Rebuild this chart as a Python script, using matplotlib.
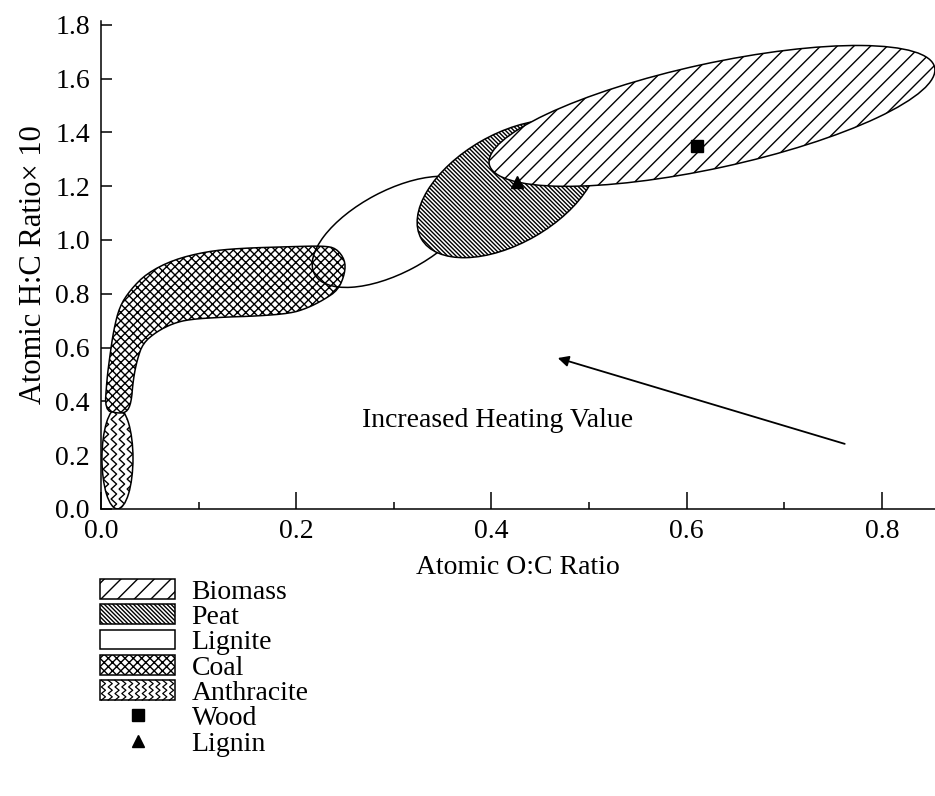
import numpy as np
import matplotlib
matplotlib.use('Agg')
import matplotlib.pyplot as plt
from matplotlib.patches import Ellipse, Patch, Polygon, Rectangle
from matplotlib.lines import Line2D
from matplotlib.legend_handler import HandlerBase
from matplotlib.transforms import Affine2D
from matplotlib.ticker import MultipleLocator, FormatStrFormatter

plt.rcParams['font.family'] = ['Liberation Serif', 'DejaVu Serif']
plt.rcParams['hatch.linewidth'] = 1.0
FS = 20

# Region ellipses: centre O:C, centre H:C, length, thickness (both in O:C units on the page), tilt (deg)
biomass_ell = (0.626, 1.461, 0.467, 0.107, 12.3)
peat_ell = (0.417, 1.190, 0.205, 0.112, 30.0)
lignite_ell = (0.300, 1.030, 0.184, 0.084, 28.0)
anthracite_ell = (0.0169, 0.188, 0.1035, 0.0318, 90.0)

# Coal band outline (O:C, H:C)
coal_x = [0.004, 0.006, 0.009, 0.013, 0.019, 0.030, 0.047, 0.074, 0.108, 0.142,
          0.194, 0.228, 0.241, 0.250, 0.250, 0.243, 0.228, 0.211, 0.194, 0.160,
          0.125, 0.091, 0.074, 0.057, 0.043, 0.037, 0.033, 0.031, 0.026, 0.016]
coal_y = [0.368, 0.480, 0.566, 0.665, 0.752, 0.814, 0.876, 0.926, 0.957, 0.969,
          0.975, 0.978, 0.969, 0.926, 0.876, 0.814, 0.777, 0.746, 0.727, 0.717,
          0.713, 0.705, 0.690, 0.659, 0.616, 0.554, 0.480, 0.394, 0.358, 0.356]

wood_pt = (0.611, 1.349)
lignin_pt = (0.426, 1.216)

arrow_tail = (0.762, 0.242)
arrow_head = (0.468, 0.561)
arrow_text = 'Increased Heating Value'

legend_labels = ['Biomass', 'Peat', 'Lignite', 'Coal', 'Anthracite', 'Wood', 'Lignin']

xmax, ymax = 0.8545, 1.814

HATCH_BIOMASS = '//'
HATCH_PEAT = '\\' * 8
HATCH_COAL = 'xxxx'


def smooth_closed(xs, ys, rounds=2):
    pts = np.column_stack([xs, ys])
    for _ in range(rounds):
        nxt = np.roll(pts, -1, axis=0)
        out = np.empty((2 * len(pts), 2))
        out[0::2] = 0.75 * pts + 0.25 * nxt
        out[1::2] = 0.25 * pts + 0.75 * nxt
        pts = out
    return pts


def zigzag(x0, y0, y1, amp, half):
    ys = np.arange(y0, y1 + half, half)
    xs = x0 + amp * np.where(np.arange(len(ys)) % 2 == 0, -1, 1)
    return xs, ys


class ZigzagHandler(HandlerBase):
    def create_artists(self, legend, orig_handle, xdescent, ydescent,
                       width, height, fontsize, trans):
        x0, y0 = -xdescent, -ydescent
        rect = Rectangle((x0, y0), width, height, facecolor='white',
                         edgecolor='black', lw=1.1, transform=trans)
        arts = [rect]
        n = 11
        for i in range(n):
            xs, ys = zigzag(x0 + (i + 0.5) * width / n, y0, y0 + height,
                            width / n * 0.3, height / 6)
            ys = np.clip(ys, y0, y0 + height)
            arts.append(Line2D(xs, ys, color='black', lw=0.9, transform=trans))
        return arts


fig = plt.figure(figsize=(9.35, 7.96), dpi=100)
ax = fig.add_axes([0.108, 0.3606, 0.892, 0.6131])
ax.set_xlim(0, xmax)
ax.set_ylim(0, ymax)

# page-aspect factor so that tilted ellipses look right on screen
fw, fh = fig.get_size_inches() * fig.dpi
bb = ax.get_position()
K = (bb.height * fh / ymax) / (bb.width * fw / xmax)
shape_tf = Affine2D().scale(1, 1 / K) + ax.transData


def region(params, **kw):
    cx, cy, w, h, ang = params
    return Ellipse((cx, cy * K), w, h, angle=ang, transform=shape_tf, **kw)


# Anthracite with wavy texture
anth = region(anthracite_ell, facecolor='white', edgecolor='black', lw=1.1, zorder=2)
ax.add_patch(anth)
cx, cy, w, h, _ = anthracite_ell
for xi in np.arange(cx - h / 2 + 0.004, cx + h / 2, 0.0082):
    xs, ys = zigzag(xi, 0, cy * K * 2 + 0.01, 0.0028, 0.0051)
    ln = Line2D(xs, ys, color='black', lw=1.0, transform=shape_tf, zorder=2.1)
    ax.add_line(ln)
    ln.set_clip_path(anth)

coal_pts = smooth_closed(coal_x, coal_y)
ax.add_patch(Polygon(coal_pts, closed=True, facecolor='white', edgecolor='black',
                     hatch=HATCH_COAL, lw=1.1, zorder=3))
ax.add_patch(region(lignite_ell, facecolor='none', edgecolor='black', lw=1.1, zorder=4))
ax.add_patch(region(peat_ell, facecolor='white', edgecolor='black', hatch=HATCH_PEAT,
                    lw=1.1, zorder=5))
ax.add_patch(region(biomass_ell, facecolor='white', edgecolor='black', hatch=HATCH_BIOMASS,
                    lw=1.1, zorder=6))

ax.plot(*wood_pt, marker='s', color='black', markersize=9, zorder=8, clip_on=False)
ax.plot(*lignin_pt, marker='^', color='black', markersize=8, zorder=8)

ax.annotate('', xy=arrow_head, xytext=arrow_tail,
            arrowprops=dict(arrowstyle='-|>', color='black', lw=1.3,
                            mutation_scale=16, shrinkA=0, shrinkB=0))
ax.text(0.406, 0.33, arrow_text, ha='center', va='center', fontsize=FS)

for s in ['top', 'right']:
    ax.spines[s].set_visible(False)
for s in ['left', 'bottom']:
    ax.spines[s].set_linewidth(1.1)

ax.xaxis.set_major_locator(MultipleLocator(0.2))
ax.xaxis.set_minor_locator(MultipleLocator(0.1))
ax.yaxis.set_major_locator(MultipleLocator(0.2))
ax.xaxis.set_major_formatter(FormatStrFormatter('%.1f'))
ax.yaxis.set_major_formatter(FormatStrFormatter('%.1f'))
ax.tick_params(axis='x', which='major', direction='in', length=12, width=1.1,
               pad=7, labelsize=FS)
ax.tick_params(axis='x', which='minor', direction='in', length=5, width=1.1)
ax.tick_params(axis='y', which='major', direction='in', length=8, width=1.1,
               pad=8, labelsize=FS)

ax.set_xlabel('Atomic O:C Ratio', fontsize=FS, labelpad=8)
ax.set_ylabel('Atomic H:C Ratio\u00d7 10', fontsize=22, labelpad=5)

handles = [
    Patch(facecolor='white', edgecolor='black', hatch=HATCH_BIOMASS, lw=1.1),
    Patch(facecolor='white', edgecolor='black', hatch=HATCH_PEAT, lw=1.1),
    Patch(facecolor='white', edgecolor='black', lw=1.1),
    Patch(facecolor='white', edgecolor='black', hatch=HATCH_COAL, lw=1.1),
    Patch(facecolor='white', edgecolor='black', lw=1.1),
    Line2D([], [], marker='s', color='black', linestyle='none', markersize=9),
    Line2D([], [], marker='^', color='black', linestyle='none', markersize=9),
]
fig.legend(handles, legend_labels, loc='upper left',
           bbox_to_anchor=(100 / 935, 1 - 579 / 796), frameon=False,
           fontsize=FS, handlelength=2.7, handleheight=0.72, handletextpad=0.6,
           labelspacing=-0.01, borderpad=0, borderaxespad=0,
           handler_map={handles[4]: ZigzagHandler()})

fig.savefig('out.png', dpi=100)
